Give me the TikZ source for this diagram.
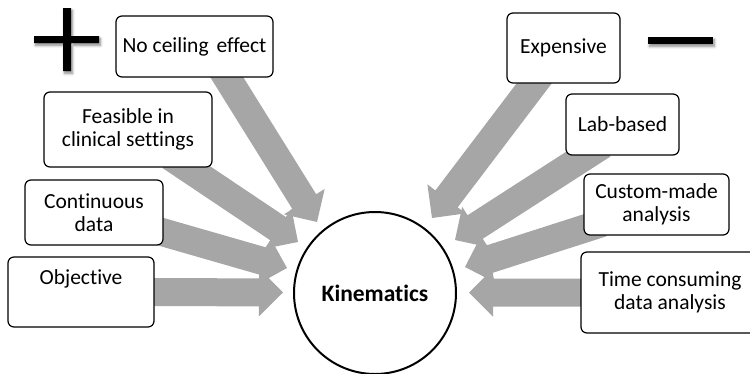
\documentclass[tikz,border=0pt]{standalone}
\usepackage{fontspec}
\setmainfont[Ligatures={NoCommon}]{Carlito}
\usetikzlibrary{calc,shadows.blur}
\definecolor{arrowgray}{RGB}{166,166,166}
\pgfdeclarelayer{bg}
\pgfsetlayers{bg,main}
\tikzset{
  item/.style={draw=black, line width=1.2pt, rounded corners=6pt, fill=white,
    align=center, inner sep=0pt, font=\fontsize{21.5}{23.5}\selectfont},
  hub/.style={draw=black, circle, line width=2pt, fill=white, inner sep=0pt,
    minimum size=162pt, font=\bfseries\fontsize{23.5}{28}\selectfont},
  % wide block arrow: body 28pt, head 48pt wide and 24pt long
  fatarrow/.style={fill=arrowgray, draw=none,
    to path={let \p1=(\tikztostart), \p2=(\tikztotarget),
      \n1={atan2(\y2-\y1,\x2-\x1)} in
      ($(\p1)+(\n1+180:20pt)+(\n1+90:14pt)$)
      -- ($(\p2)+(\n1+180:24pt)+(\n1+90:14pt)$)
      -- ($(\p2)+(\n1+180:24pt)+(\n1+90:24pt)$)
      -- (\p2)
      -- ($(\p2)+(\n1+180:24pt)+(\n1-90:24pt)$)
      -- ($(\p2)+(\n1+180:24pt)+(\n1-90:14pt)$)
      -- ($(\p1)+(\n1+180:20pt)+(\n1-90:14pt)$)
      -- cycle}},
  sign/.style={fill=black, blur shadow={shadow xshift=1.5pt, shadow yshift=-2.5pt,
    shadow blur radius=2.5pt, shadow blur steps=6, shadow opacity=45}},
}
\begin{document}
\begin{tikzpicture}[x=1pt,y=-1pt]
\useasboundingbox (0,0) rectangle (750,373);
\clip (0,0) rectangle (750,373);

% plus and minus signs
\fill[sign] (34,36) rectangle (99,43) (63,8) rectangle (71,71);
\fill[sign] (648,37) rectangle (713,44);

% central topic
\node[hub] (k) at (375,293) {Kinematics};

% advantages
\node[item, minimum width=157pt, minimum height=61pt] (nc) at (194.5,46.5) {No ceiling\hspace{3pt} effect};
\node[item, minimum width=168pt, minimum height=75pt] (fe) at (128,129.5) {Feasible in\\clinical settings};
\node[item, minimum width=138pt, minimum height=65pt] (co) at (94,212.5) {Continuous\\data};
\node[item, minimum width=146pt, minimum height=70pt] (ob) at (81,292) {Objective\\\strut};

% disadvantages
\node[item, minimum width=113pt, minimum height=70pt] (ex) at (563.5,48) {Expensive};
\node[item, minimum width=113pt, minimum height=61pt] (lb) at (622.5,124.5) {Lab-based};
\node[item, minimum width=145pt, minimum height=61pt] (cm) at (656.5,204.5) {Custom-made\\analysis};
\node[item, minimum width=178pt, minimum height=81pt] (tc) at (670,292.5) {Time consuming\\data analysis};

% arrow tips around the hub
\coordinate (t1) at (317,222);
\coordinate (t2) at (298,242);
\coordinate (t3) at (287,268);
\coordinate (t4) at (283,292.5);
\coordinate (t5) at (432,218);
\coordinate (t6) at (455,240);
\coordinate (t7) at (465,267);
\coordinate (t8) at (469,292.5);

\begin{pgfonlayer}{bg}
  \fill[fatarrow] ($(nc.south)+(32.5,0)$) to (t1);
  \fill[fatarrow] ($(fe.south)+(59,0)$) to (t2);
  \fill[fatarrow] ($(co.east)+(0,20)$) to (t3);
  \fill[fatarrow] (ob.east) to (t4);
  \fill[fatarrow] ($(ex.south)+(-29.5,0)$) to (t5);
  \fill[fatarrow] ($(lb.south)+(-36.5,0)$) to (t6);
  \fill[fatarrow] ($(cm.west)+(0,24.5)$) to (t7);
  \fill[fatarrow] (tc.west) to (t8);
\end{pgfonlayer}
\end{tikzpicture}
\end{document}
